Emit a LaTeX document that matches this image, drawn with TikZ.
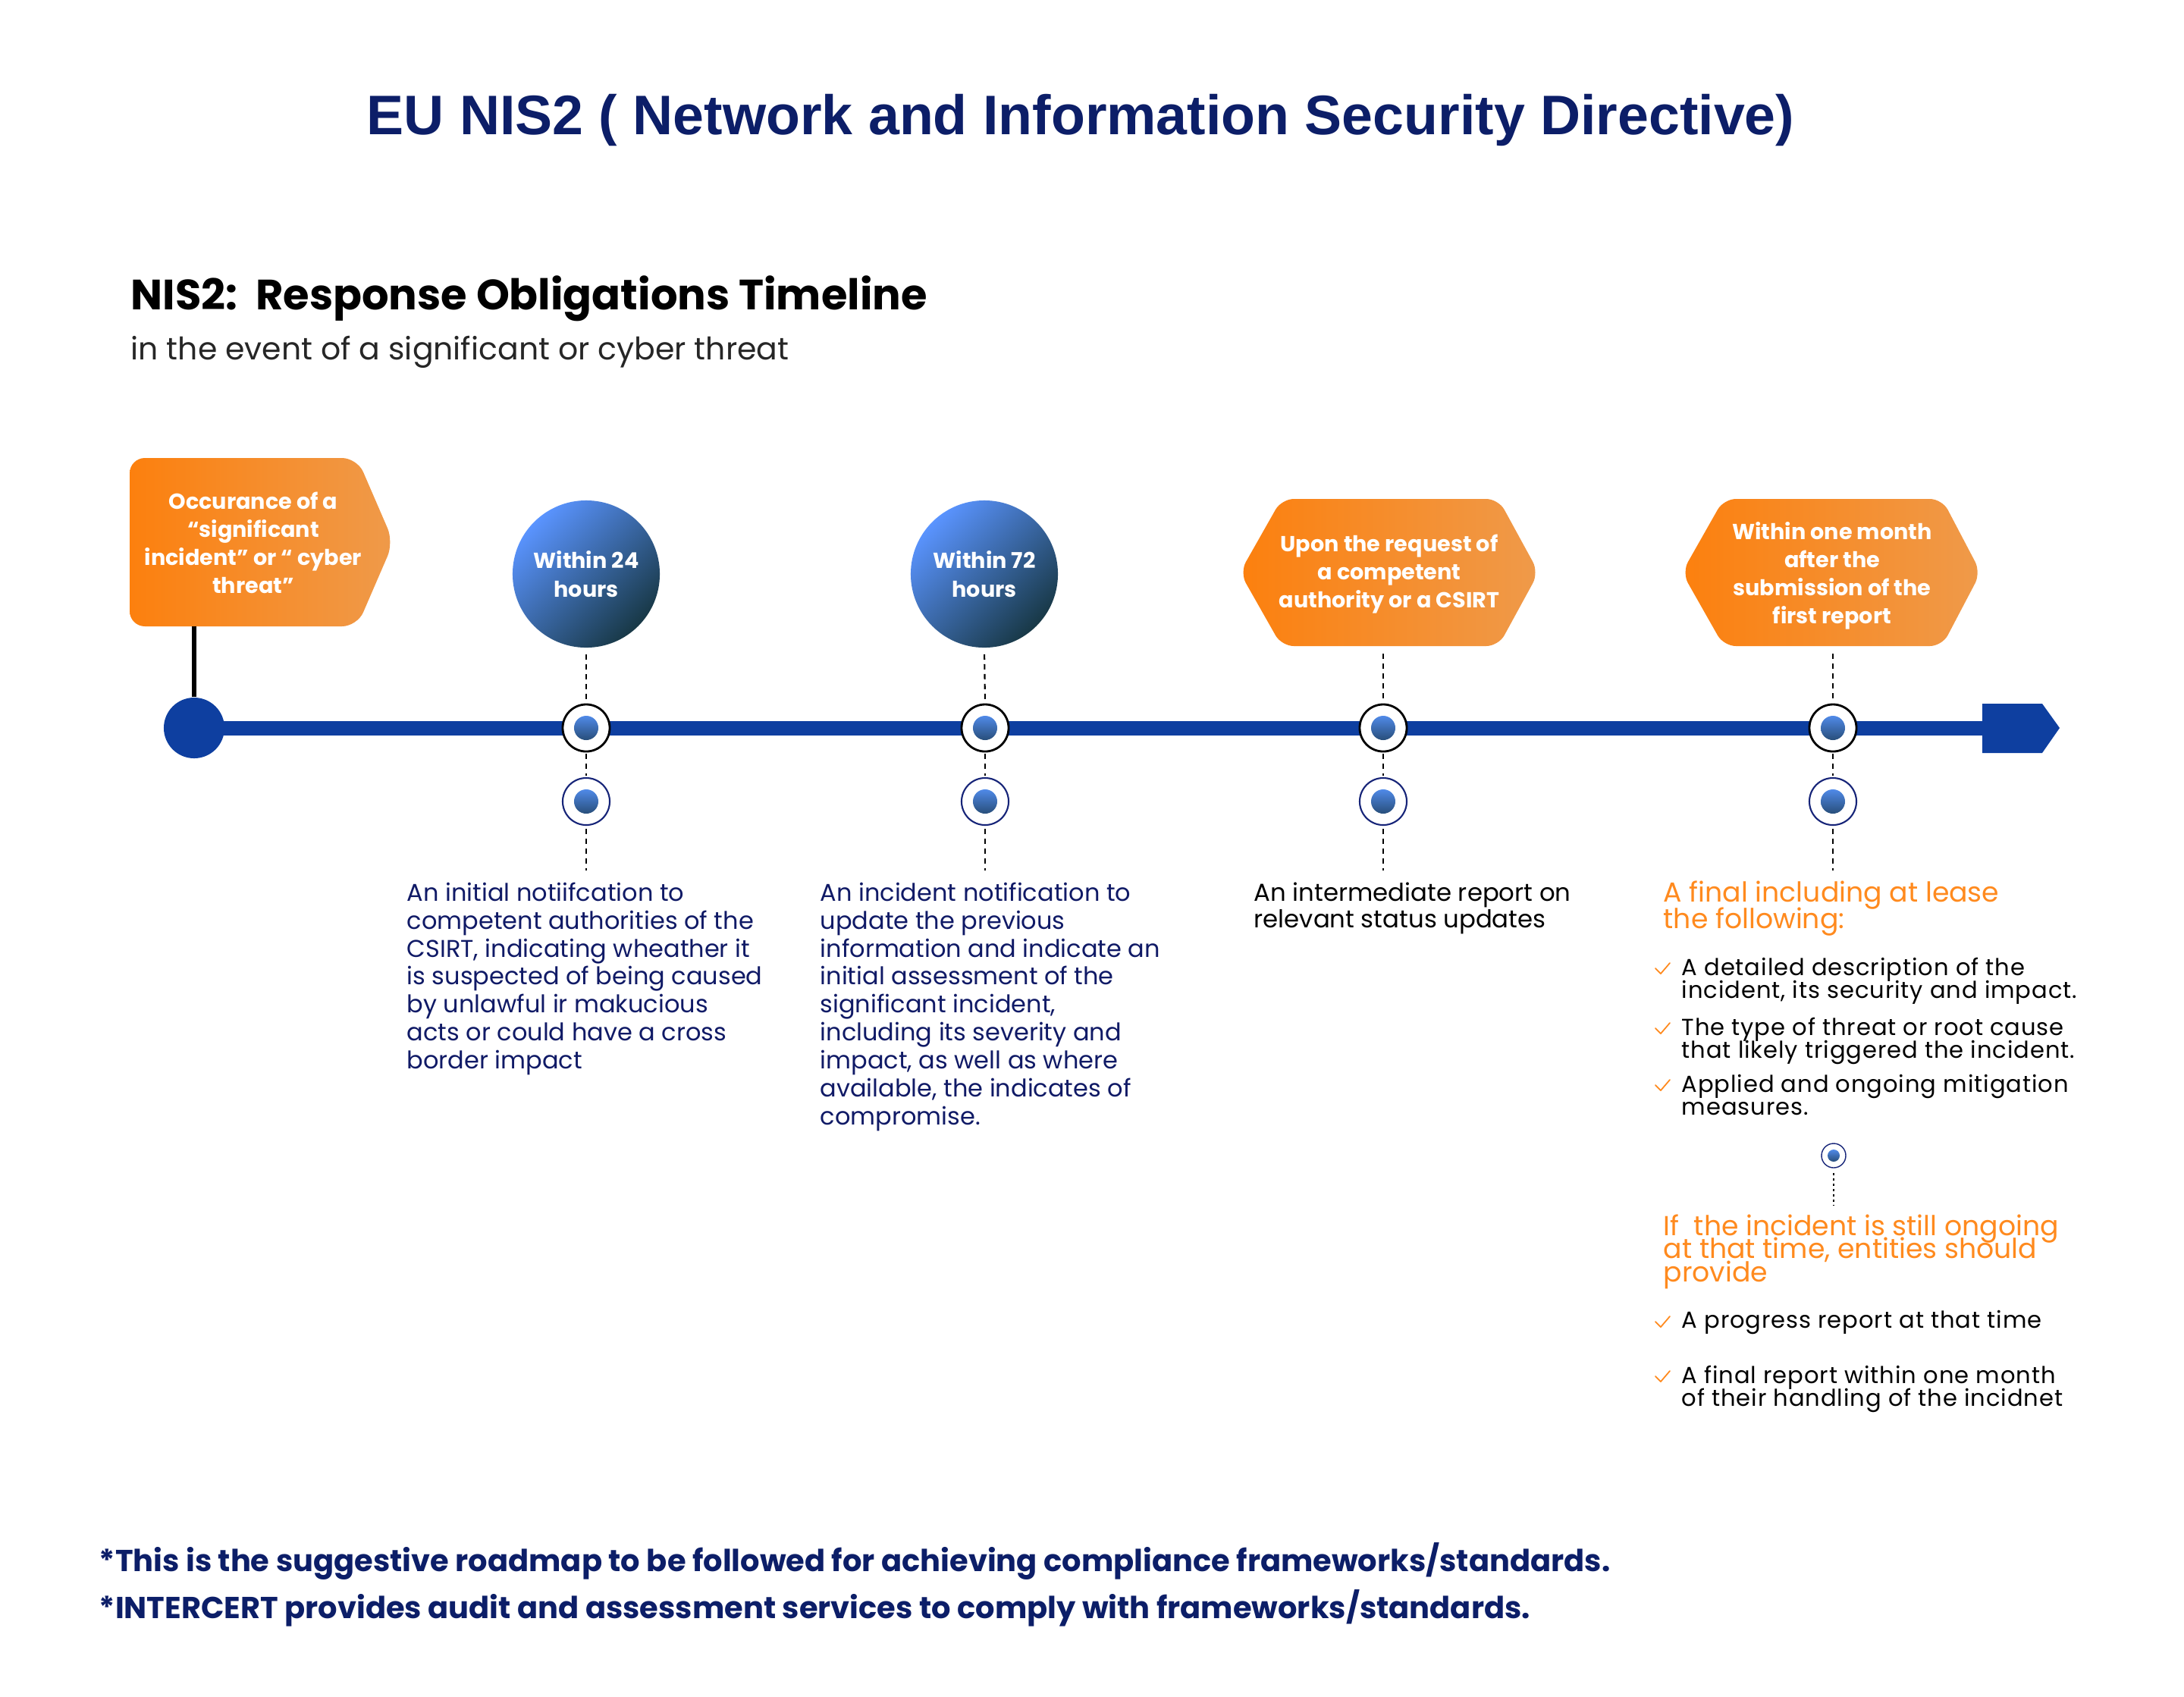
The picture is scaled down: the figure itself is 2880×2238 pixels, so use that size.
\documentclass[tikz,border=0pt]{standalone}
\usepackage{fontspec}
\setmainfont{Poppins}
\newfontfamily\titlefont{Liberation Sans}
\newfontfamily\popwide[LetterSpace=3]{Poppins}
\usetikzlibrary{calc}
\newcommand\tightlines{\lineskiplimit=-100pt\relax}
\definecolor{navy}{RGB}{12,30,104}
\definecolor{bodynavy}{RGB}{16,26,102}
\definecolor{tlblue}{RGB}{14,63,160}
\definecolor{orL}{RGB}{252,128,14}
\definecolor{orR}{RGB}{239,154,74}
\definecolor{orText}{RGB}{255,138,30}
\definecolor{cirL}{RGB}{90,148,255}
\definecolor{cirD}{RGB}{24,56,70}
\definecolor{dotL}{RGB}{80,138,232}
\definecolor{dotD}{RGB}{40,78,122}
\definecolor{ringnavy}{RGB}{22,36,120}
\begin{document}
\begin{tikzpicture}[x=0.01cm,y=-0.01cm,
  timecircle/.style={circle, minimum size=1.94cm, inner sep=0, top color=cirL, bottom color=cirD, shading angle=45, text=white, font=\fontsize{8.15}{10.8}\selectfont\bfseries, align=center},
  boxtext/.style={text=white, font=\fontsize{8.15}{10.5}\selectfont\bfseries, align=center, inner sep=0},
  orshape/.style={left color=orL, right color=orR},
  ring/.style={circle, minimum size=0.62cm, inner sep=0, fill=white, draw=black, line width=0.8pt},
  ringb/.style={ring, draw=ringnavy, line width=0.6pt},
  dotn/.style={circle, minimum size=0.32cm, inner sep=0, top color=dotL, bottom color=dotD},
  dashline/.style={black, line width=0.6pt, dash pattern=on 2pt off 1.7pt},
  bodytext/.style={anchor=north west, align=left, inner sep=0, font=\fontsize{9.1}{10.5}\selectfont},
  bullettext/.style={anchor=north west, align=left, inner sep=0, font=\fontsize{8.7}{8.7}\selectfont\tightlines\popwide},
  headtext/.style={anchor=north west, align=left, inner sep=0, text=orText},
  checkmark/.style={orText, line width=0.5pt, line cap=round, line join=round}
]
\useasboundingbox[fill=white] (0,0) rectangle (2880,2238);

% titles
\node[anchor=base, inner sep=0, text=navy, font=\titlefont\bfseries\fontsize{20.9}{24}\selectfont] (title) at (1425,177) {EU NIS2 ( Network and Information Security Directive)};
\node[anchor=base west, inner sep=0, font=\bfseries\fontsize{15.9}{18}\selectfont] (sub) at (172,408) {NIS2:\ \ Response Obligations Timeline};
\node[anchor=base west, inner sep=0, text=black!85, font=\fontsize{11.65}{14}\selectfont] (sub2) at (172,474) {in the event of a significant or cyber threat};

% timeline
\coordinate (startpt) at (256,960);
\coordinate (arrowtail) at (2614,960);
\draw[tlblue, line width=0.19cm] (startpt) -- (arrowtail);
\fill[tlblue] (2614,928) -- (2693,928) -- (2716,960) -- (2693,993) -- (2614,993) -- cycle;
\node[circle, minimum size=0.80cm, inner sep=0, fill=tlblue] (start) at (startpt) {};

% first pentagon
\path[orshape, rounded corners=0.2cm] (171,604) -- (471,604) -- (519,715) -- (471,826) -- (171,826) -- cycle;
\node[boxtext] (occ) at (334,716) {Occurance of a\\“significant\\incident” or “ cyber\\threat”};
\coordinate (pentb) at (256,826);
\draw[black, line width=1.5pt] (pentb) -- (start.north);

% circles
\node[timecircle] (w24) at (773,757) {Within 24\\hours};
\node[timecircle] (w72) at (1298,757) {Within 72\\hours};

% hexagons
\path[orshape, rounded corners=0.16cm] (1635,755) -- (1690,658) -- (1976,658) -- (2029,755) -- (1976,852) -- (1690,852) -- cycle;
\node[boxtext] (req) at (1832,757) {Upon the request of\\a competent\\authority or a CSIRT};
\coordinate (hx1b) at (1824,862);
\path[orshape, rounded corners=0.16cm] (2218,755) -- (2273,658) -- (2561,658) -- (2612,755) -- (2561,852) -- (2273,852) -- cycle;
\node[boxtext] (month) at (2416,759) {Within one month\\after the\\submission of the\\first report};
\coordinate (hx2b) at (2417,862);

% markers
\foreach \n/\xx in {a/773,b/1299,c/1824,d/2417}{
  \node[ring] (m1\n) at (\xx,960) {};
  \node[dotn] (d1\n) at (m1\n) {};
  \node[ringb] (m2\n) at (\xx,1057) {};
  \node[dotn] (d2\n) at (m2\n) {};
  \coordinate (e\n) at (\xx,1148);
  \draw[dashline, shorten <=0.02cm, shorten >=0.02cm] (m1\n.south) -- (m2\n.north);
  \draw[dashline, shorten <=0.04cm] (m2\n.south) -- (e\n);
}
\draw[dashline, shorten <=0.08cm, shorten >=0.02cm] (w24.south) -- (m1a.north);
\draw[dashline, shorten <=0.08cm, shorten >=0.02cm] (w72.south) -- (m1b.north);
\draw[dashline, shorten >=0.02cm] (hx1b) -- (m1c.north);
\draw[dashline, shorten >=0.02cm] (hx2b) -- (m1d.north);

% descriptions
\node[bodytext, text=bodynavy] (t1) at (536,1163) {An initial notiifcation to\\competent authorities of the\\CSIRT, indicating wheather it\\is suspected of being caused\\by unlawful ir makucious\\acts or could have a cross\\border impact};
\node[bodytext, text=bodynavy] (t2) at (1081,1163) {An incident notification to\\update the previous\\information and indicate an\\initial assessment of the\\significant incident,\\including its severity and\\impact, as well as where\\available, the indicates of\\compromise.};
\node[bodytext, text=black, font=\fontsize{9.2}{10}\selectfont] (t3) at (1653,1163) {An intermediate report on\\relevant status updates};

% right column
\node[headtext, font=\fontsize{10.3}{10}\selectfont\tightlines] (h1) at (2193,1161) {A final including at lease\\the following:};
\node[bullettext] (b1) at (2217,1262) {A detailed description of the\\incident, its security and impact.};
\node[bullettext] (b2) at (2217,1341) {The type of threat or root cause\\that likely triggered the incident.};
\node[bullettext] (b3) at (2217,1416) {Applied and ongoing mitigation\\measures.};
\node[circle, minimum size=0.32cm, inner sep=0, fill=white, draw=ringnavy, line width=0.4pt] (sm) at (2418,1524) {};
\node[circle, minimum size=0.16cm, inner sep=0, top color=dotL, bottom color=dotD] (smd) at (sm) {};
\coordinate (sme) at (2418,1590);
\draw[black, line width=0.4pt, dash pattern=on 1pt off 1pt, shorten <=0.06cm] (sm.south) -- (sme);
\node[headtext, font=\fontsize{10.3}{8.7}\selectfont\tightlines] (h2) at (2193,1601) {If\ \ the incident is still ongoing\\at that time, entities should\\provide};
\node[bullettext] (b4) at (2217,1727) {A progress report at that time};
\node[bullettext] (b5) at (2217,1800) {A final report within one month\\of their handling of the incidnet};
\foreach \b in {1286,1365,1440,1752,1824}{
  \draw[checkmark] (2183,\b-9) -- (2190,\b-2) -- (2202,\b-16);
}

% footer
\node[anchor=base west, inner sep=0, text=navy, font=\bfseries\fontsize{11.37}{13}\selectfont] (f1) at (130,2072) {*This is the suggestive roadmap to be followed for achieving compliance frameworks/standards.};
\node[anchor=base west, inner sep=0, text=navy, font=\bfseries\fontsize{11.37}{13}\selectfont] (f2) at (130,2134) {*INTERCERT provides audit and assessment services to comply with frameworks/standards.};
\end{tikzpicture}
\end{document}
